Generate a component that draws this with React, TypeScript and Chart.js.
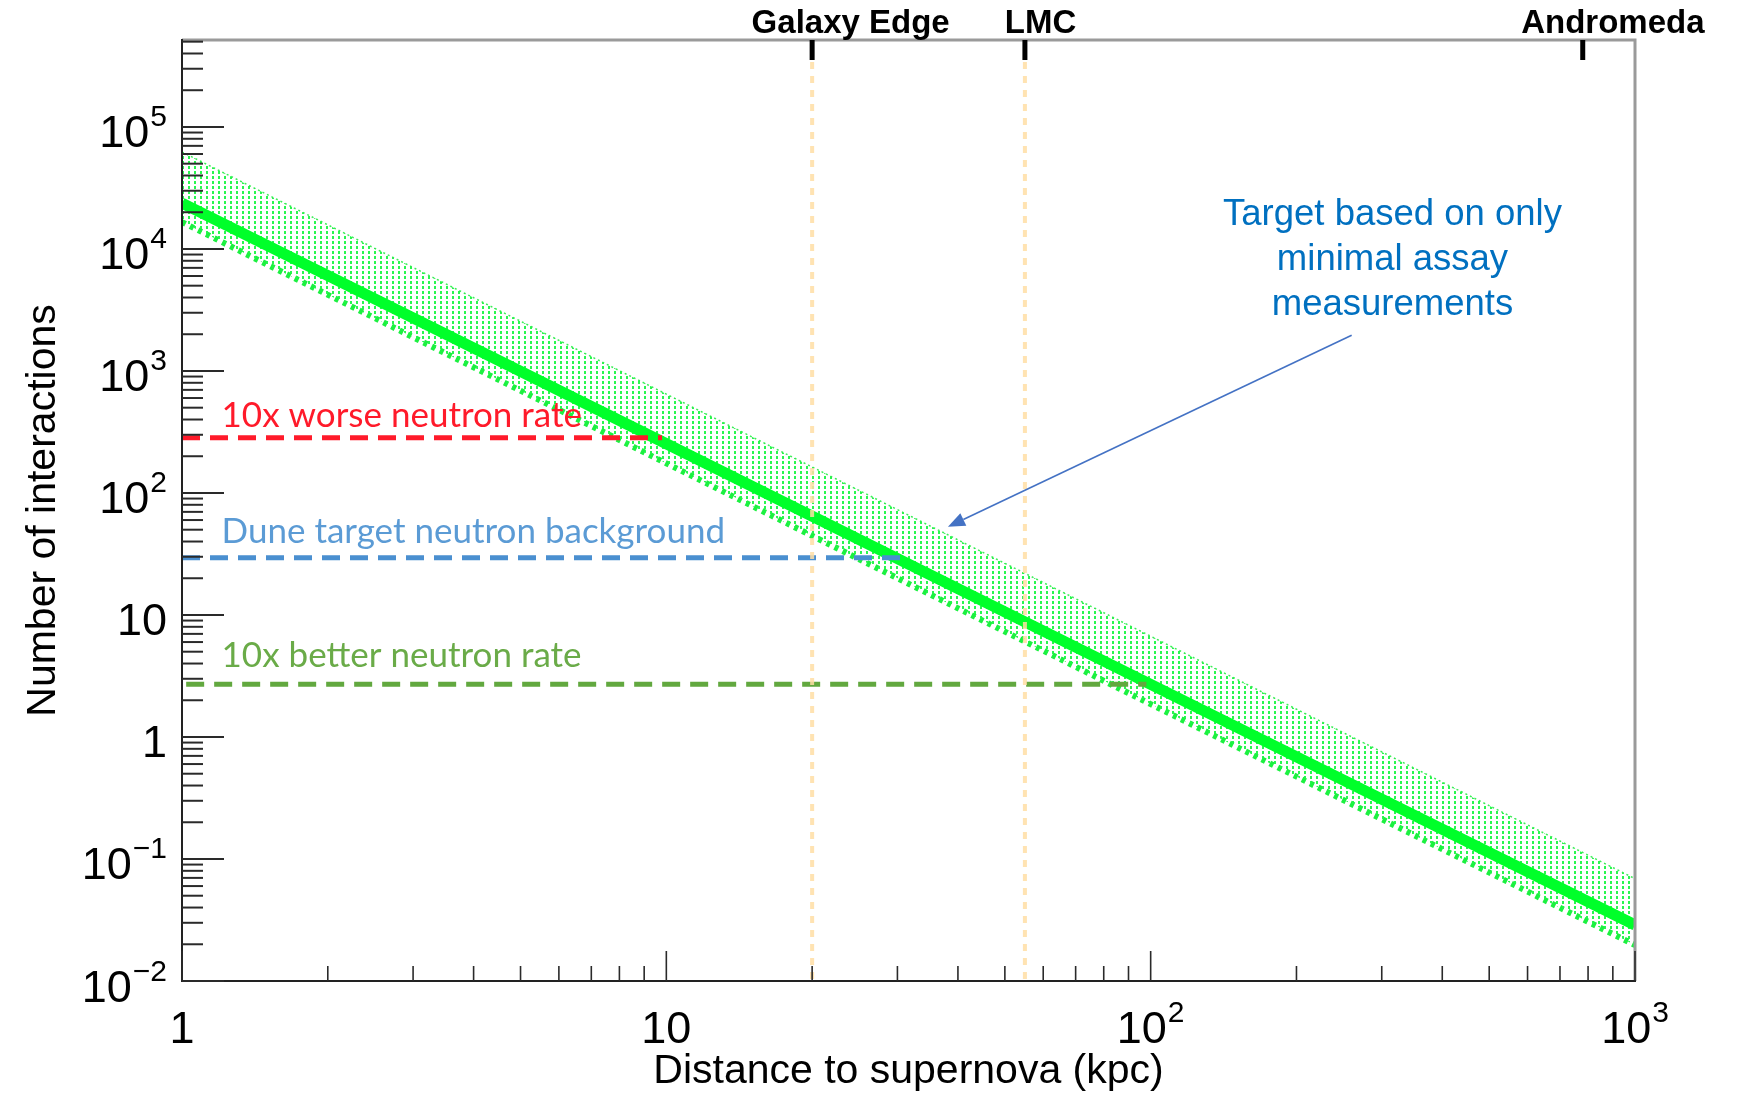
import React, { useEffect, useRef } from "react";
import { Chart, registerables } from "chart.js";

Chart.register(...registerables);

const W = 1737;
const H = 1093;

// ---- data ----
const distances = [1, 10, 100, 1000]; // kpc
const centralRate = [2.37e4, 253, 2.7, 0.0288];
const upperRate = [6.24e4, 646, 6.7, 0.069];
const lowerRate = [1.66e4, 175, 1.86, 0.0197];

const refNames = ["10x worse neutron rate", "Dune target neutron background", "10x better neutron rate"];
const refLevels = [283, 29.5, 2.7];
const refStart = [1.0, 1.0, 1.02];
const refEnd = [9.8, 31.3, 98];
const refLineColors = ["#ff1a2a", "#4a8fd0", "#62a83f"];
const refTextColors = ["#ff1a2a", "#5b9bd5", "#6aab48"];
const refLabelX = [1.207, 1.207, 1.207];
const refLabelY = [346, 39.0, 3.76];

const markerNames = ["Galaxy Edge", "LMC", "Andromeda"];
const markerDist = [20, 55, 780];
const markerLabelStart = [15, 50, 582];
const guideDist = [20, 55];

const noteLines = ["Target based on only", "minimal assay", "measurements"];
const noteX = 315.7;
const noteY = [15640, 6692, 2864];
const arrowFrom = [260, 1963];
const arrowTo = [38.15, 52.8];

const xMajor = [1, 10, 100, 1000];
const xMajorBase = ["1", "10", "10", "10"];
const xMajorExp = ["", "", "2", "3"];
const xMinor = [2, 3, 4, 5, 6, 7, 8, 9, 20, 30, 40, 50, 60, 70, 80, 90, 200, 300, 400, 500, 600, 700, 800, 900];

const yMajor = [0.01, 0.1, 1, 10, 100, 1000, 10000, 100000];
const yMajorBase = ["10", "10", "1", "10", "10", "10", "10", "10"];
const yMajorExp = ["\u22122", "\u22121", "", "", "2", "3", "4", "5"];
const yMinor = [
  0.02, 0.03, 0.04, 0.05, 0.06, 0.07, 0.08, 0.09,
  0.2, 0.3, 0.4, 0.5, 0.6, 0.7, 0.8, 0.9,
  2, 3, 4, 5, 6, 7, 8, 9,
  20, 30, 40, 50, 60, 70, 80, 90,
  200, 300, 400, 500, 600, 700, 800, 900,
  2000, 3000, 4000, 5000, 6000, 7000, 8000, 9000,
  20000, 30000, 40000, 50000, 60000, 70000, 80000, 90000,
  200000, 300000, 400000, 500000,
];

const HELV = '"Liberation Sans", Arial, Helvetica, sans-serif';
const CAL = 'Lato, "Noto Sans", sans-serif';

function drawPow(ctx: CanvasRenderingContext2D, base: string, exp: string, x: number, baseline: number, align: "right" | "center") {
  ctx.font = `45px ${HELV}`;
  const wb = ctx.measureText(base).width;
  ctx.font = `30px ${HELV}`;
  const we = exp ? ctx.measureText(exp).width + 1 : 0;
  const total = wb + we;
  const x0 = align === "right" ? x - total : x - total / 2;
  ctx.textAlign = "left";
  ctx.textBaseline = "alphabetic";
  ctx.font = `45px ${HELV}`;
  ctx.fillText(base, x0, baseline);
  if (exp) {
    ctx.font = `30px ${HELV}`;
    ctx.fillText(exp, x0 + wb + 1, baseline - 21);
  }
}

const decorPlugin = {
  id: "decor",
  beforeDraw(chart: any) {
    const ctx = chart.ctx;
    ctx.save();
    ctx.fillStyle = "#ffffff";
    ctx.fillRect(0, 0, chart.width, chart.height);
    ctx.restore();
  },
  afterDatasetsDraw(chart: any) {
    const { ctx, chartArea: a } = chart;
    const x = chart.scales.x;
    ctx.save();
    ctx.strokeStyle = "rgba(255, 222, 165, 0.85)";
    ctx.lineWidth = 4;
    ctx.setLineDash([7, 7]);
    guideDist.forEach((d) => {
      const px = x.getPixelForValue(d);
      ctx.beginPath();
      ctx.moveTo(px, a.top + 22);
      ctx.lineTo(px, a.bottom);
      ctx.stroke();
    });
    ctx.restore();
  },
  afterDraw(chart: any) {
    const { ctx, chartArea: a } = chart;
    const x = chart.scales.x;
    const y = chart.scales.y;
    ctx.save();

    // frame
    ctx.setLineDash([]);
    ctx.lineCap = "butt";
    ctx.strokeStyle = "#9a9a9a";
    ctx.lineWidth = 3;
    ctx.beginPath();
    ctx.moveTo(a.left, a.top);
    ctx.lineTo(a.right, a.top);
    ctx.lineTo(a.right, a.bottom);
    ctx.stroke();
    ctx.strokeStyle = "#222";
    ctx.lineWidth = 2;
    ctx.beginPath();
    ctx.moveTo(a.left, a.top - 1);
    ctx.lineTo(a.left, a.bottom);
    ctx.lineTo(a.right + 1, a.bottom);
    ctx.stroke();

    // y ticks
    ctx.strokeStyle = "#2a2a2a";
    ctx.lineWidth = 2;
    y.ticks.forEach((t: any) => {
      const py = y.getPixelForValue(t.value);
      const len = t.major ? 42 : 21;
      ctx.beginPath();
      ctx.moveTo(a.left, py);
      ctx.lineTo(a.left + len, py);
      ctx.stroke();
    });
    // x ticks
    ctx.lineWidth = 1.6;
    x.ticks.forEach((t: any) => {
      const px = x.getPixelForValue(t.value);
      const len = t.major ? 30 : 15;
      ctx.beginPath();
      ctx.moveTo(px, a.bottom);
      ctx.lineTo(px, a.bottom - len);
      ctx.stroke();
    });

    // tick labels
    ctx.fillStyle = "#000";
    yMajor.forEach((v, i) => {
      const py = y.getPixelForValue(v);
      drawPow(ctx, yMajorBase[i], yMajorExp[i], 167, py + 20.5, "right");
    });
    xMajor.forEach((v, i) => {
      const px = x.getPixelForValue(v);
      drawPow(ctx, xMajorBase[i], xMajorExp[i], px, 1043, "center");
    });

    // axis titles
    ctx.font = `41px ${HELV}`;
    ctx.textAlign = "center";
    ctx.textBaseline = "alphabetic";
    ctx.fillText("Distance to supernova (kpc)", (a.left + a.right) / 2, 1083);
    ctx.save();
    ctx.translate(55, (a.top + a.bottom) / 2);
    ctx.rotate(-Math.PI / 2);
    ctx.fillText("Number of interactions", 0, 0);
    ctx.restore();

    // top markers
    ctx.strokeStyle = "#000";
    ctx.lineWidth = 5;
    markerDist.forEach((d) => {
      const px = x.getPixelForValue(d);
      ctx.beginPath();
      ctx.moveTo(px, a.top);
      ctx.lineTo(px, a.top + 20);
      ctx.stroke();
    });
    ctx.font = `bold 33px ${HELV}`;
    ctx.textAlign = "left";
    markerNames.forEach((n, i) => {
      ctx.fillText(n, x.getPixelForValue(markerLabelStart[i]), 33);
    });

    // reference line labels
    ctx.font = `35px ${CAL}`;
    refNames.forEach((n, i) => {
      ctx.fillStyle = refTextColors[i];
      ctx.fillText(n, x.getPixelForValue(refLabelX[i]), y.getPixelForValue(refLabelY[i]));
    });

    // annotation
    ctx.fillStyle = "#0070c0";
    ctx.font = `36.5px ${HELV}`;
    ctx.textAlign = "center";
    noteLines.forEach((l, i) => {
      ctx.fillText(l, x.getPixelForValue(noteX), y.getPixelForValue(noteY[i]));
    });
    const x1 = x.getPixelForValue(arrowFrom[0]);
    const y1 = y.getPixelForValue(arrowFrom[1]);
    const x2 = x.getPixelForValue(arrowTo[0]);
    const y2 = y.getPixelForValue(arrowTo[1]);
    const ang = Math.atan2(y2 - y1, x2 - x1);
    const hl = 17;
    const hw = 7;
    const bx = x2 - hl * Math.cos(ang);
    const by = y2 - hl * Math.sin(ang);
    ctx.strokeStyle = "#4472c4";
    ctx.lineWidth = 1.6;
    ctx.beginPath();
    ctx.moveTo(x1, y1);
    ctx.lineTo(bx, by);
    ctx.stroke();
    ctx.fillStyle = "#4472c4";
    ctx.beginPath();
    ctx.moveTo(x2, y2);
    ctx.lineTo(bx + hw * Math.sin(ang), by - hw * Math.cos(ang));
    ctx.lineTo(bx - hw * Math.sin(ang), by + hw * Math.cos(ang));
    ctx.closePath();
    ctx.fill();

    ctx.restore();
  },
};

function makeDotPattern(ctx: CanvasRenderingContext2D): CanvasPattern | string {
  const c = document.createElement("canvas");
  c.width = 6;
  c.height = 5;
  const g = c.getContext("2d");
  if (!g) return "rgba(0,230,50,0.3)";
  g.fillStyle = "rgba(30, 245, 70, 0.95)";
  g.fillRect(2, 1, 2, 3);
  const p = ctx.createPattern(c, "repeat");
  return p || "rgba(0,230,50,0.3)";
}

export default function App() {
  const ref = useRef<HTMLCanvasElement | null>(null);

  useEffect(() => {
    const canvas = ref.current;
    if (!canvas) return;
    const ctx = canvas.getContext("2d");
    if (!ctx) return;
    const pattern = makeDotPattern(ctx);

    const pts = (vals: number[]) => distances.map((d, i) => ({ x: d, y: vals[i] }));

    const refSets = refNames.map((n, i) => ({
      label: n,
      data: [
        { x: refStart[i], y: refLevels[i] },
        { x: refEnd[i], y: refLevels[i] },
      ],
      borderColor: refLineColors[i],
      borderWidth: 5,
      borderDash: [18, 10],
      pointRadius: 0,
      fill: false,
      order: 1,
    }));

    const chart = new Chart(canvas, {
      type: "line",
      data: {
        datasets: [
          {
            label: "lower",
            data: pts(lowerRate),
            borderColor: "#1cf040",
            borderWidth: 6,
            borderDash: [4, 5],
            pointRadius: 0,
            fill: false,
            order: 5,
          },
          {
            label: "upper",
            data: pts(upperRate),
            borderColor: "rgba(40, 235, 70, 0.9)",
            borderWidth: 1.5,
            borderDash: [2, 3],
            pointRadius: 0,
            fill: "-1",
            backgroundColor: pattern as any,
            order: 4,
          },
          {
            label: "Target based on only minimal assay measurements",
            data: pts(centralRate),
            borderColor: "#00ff2a",
            borderWidth: 11,
            pointRadius: 0,
            fill: false,
            order: 3,
          },
          ...refSets,
        ] as any,
      },
      options: {
        animation: false,
        responsive: false,
        devicePixelRatio: 1,
        layout: { padding: { left: 0, right: 102, top: 40, bottom: 0 } },
        plugins: {
          legend: { display: false },
          tooltip: { enabled: false },
          title: { display: false },
        },
        scales: {
          x: {
            type: "logarithmic",
            min: 1,
            max: 1000,
            bounds: "data",
            grid: { display: false },
            border: { display: false },
            ticks: { display: false },
            afterBuildTicks: (s: any) => {
              s.ticks = xMajor.map((v) => ({ value: v, major: true })).concat(xMinor.map((v) => ({ value: v, major: false })));
            },
            afterFit: (s: any) => {
              s.height = 112;
            },
          },
          y: {
            type: "logarithmic",
            min: 0.01,
            max: 5.16e5,
            bounds: "data",
            grid: { display: false },
            border: { display: false },
            ticks: { display: false },
            afterBuildTicks: (s: any) => {
              s.ticks = yMajor.map((v) => ({ value: v, major: true })).concat(yMinor.map((v) => ({ value: v, major: false })));
            },
            afterFit: (s: any) => {
              s.width = 182;
            },
          },
        },
      } as any,
      plugins: [decorPlugin],
    });

    return () => {
      chart.destroy();
    };
  }, []);

  return (
    <div style={{ position: "absolute", left: 0, top: 0, width: W, height: H, background: "#fff" }}>
      <canvas ref={ref} width={W} height={H} style={{ display: "block", width: W, height: H }} />
    </div>
  );
}
